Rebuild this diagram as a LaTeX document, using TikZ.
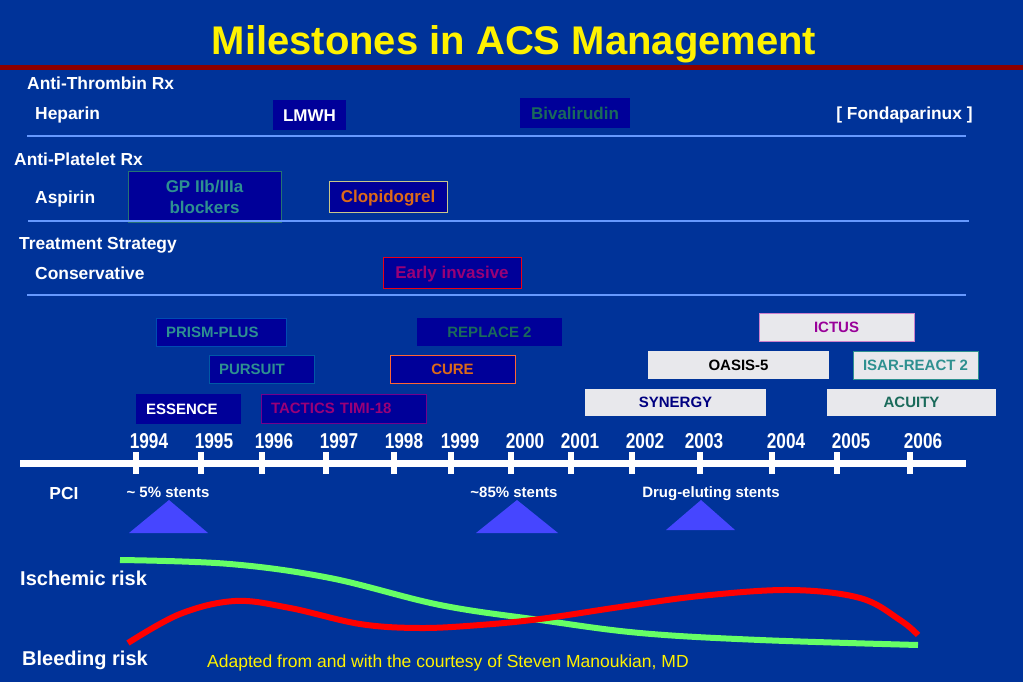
\documentclass[tikz,border=0pt]{standalone}
\usepackage{fontspec}
\setmainfont{Liberation Sans}
\newfontfamily\narrowfont[FakeStretch=0.8]{Liberation Sans}
\usepackage{xcolor}
\usetikzlibrary{positioning}

\definecolor{slideblue}{HTML}{003399}
\definecolor{boxnavy}{HTML}{000099}
\definecolor{boxgray}{HTML}{E8E8EC}
\definecolor{sepblue}{HTML}{6699FF}
\definecolor{titlered}{HTML}{8E0000}
\definecolor{tealtxt}{HTML}{2E9090}
\definecolor{greentxt}{HTML}{1A6A5A}
\definecolor{orangetxt}{HTML}{DD6A18}
\definecolor{purpletxt}{HTML}{990077}
\definecolor{ictustxt}{HTML}{990099}
\definecolor{navytxt}{HTML}{000080}
\definecolor{stentblue}{HTML}{4646FF}
\definecolor{riskgreen}{HTML}{66FF66}

\begin{document}
\begin{tikzpicture}[x=1pt,y=-1pt,
    lbl/.style={anchor=base west, text=white, inner sep=0pt, font=\bfseries\fontsize{17.4}{20}\selectfont},
    darkbox/.style={fill=boxnavy, inner sep=0pt, font=\bfseries\fontsize{17}{20}\selectfont, text height=12.2pt, text depth=0pt},
    trial/.style={fill=boxnavy, inner sep=0pt, font=\bfseries\fontsize{15}{18}\selectfont, text height=10.7pt, text depth=0pt},
    graybox/.style={trial, fill=boxgray},
    leftbox/.style={align=left, inner xsep=10pt, text width=#1},
    sepline/.style={draw=sepblue, line width=1.5pt},
    yearlbl/.style={anchor=base, text=white, inner sep=0pt, font=\narrowfont\bfseries\fontsize{21.5}{24}\selectfont},
    stentlbl/.style={anchor=base, text=white, inner sep=0pt, font=\bfseries\fontsize{15}{18}\selectfont},
    risklbl/.style={anchor=base west, text=white, inner sep=0pt, font=\bfseries\fontsize{20}{24}\selectfont}]

    % Background and title
    \fill[slideblue] (0,0) rectangle (1023,682);
    \useasboundingbox (0,0) rectangle (1023,682);
    \node[anchor=base, text=yellow, font=\bfseries\fontsize{40}{46}\selectfont] (title) at (514,55) {Milestones in ACS Management};
    \draw[titlered, line width=5pt] (0,68) -- (1023,68);

    % Anti-thrombin row
    \node[lbl] (antithr) at (27,90) {Anti-Thrombin Rx};
    \node[lbl] (heparin) at (35,120) {Heparin};
    \node[darkbox, text=white, minimum width=73pt, minimum height=30pt] (lmwh) at (309.5,115) {LMWH};
    \node[darkbox, text=greentxt, minimum width=110pt, minimum height=30pt] (bival) at (575,113) {Bivalirudin};
    \node[lbl, anchor=base] (fonda) at (904.5,120) {[ Fondaparinux ]};
    \draw[sepline] (27,136) -- (966,136);

    % Anti-platelet row
    \node[lbl] (antiplt) at (14,165) {Anti-Platelet Rx};
    \node[lbl] (aspirin) at (35,203) {Aspirin};
    \node[fill=boxnavy, draw=tealtxt!80!black, text=tealtxt, align=center, inner sep=0pt,
          font=\bfseries\fontsize{17}{21}\selectfont, minimum width=153pt, minimum height=51pt] (gp) at (204.5,196.5) {GP IIb/IIIa\\blockers};
    \node[darkbox, draw=yellow!40!gray!80, text=orangetxt, minimum width=118pt, minimum height=31pt] (clopi) at (388,196.5) {Clopidogrel};
    \draw[sepline] (28,221) -- (969,221);

    % Strategy row
    \node[lbl] (strategy) at (19,249) {Treatment Strategy};
    \node[lbl] (conserv) at (35,279) {Conservative};
    \node[darkbox, draw=red!70!purple, text=purpletxt, minimum width=138pt, minimum height=31pt] (early) at (452,272.5) {Early invasive};
    \draw[sepline] (27,295) -- (966,295);

    % Trials
    \node[trial, draw=blue!40!teal, text=tealtxt, leftbox=110pt, minimum height=28pt] (prism) at (221,332) {PRISM-PLUS};
    \node[trial, text=greentxt, minimum width=145pt, minimum height=28pt] (replace) at (489.5,332) {REPLACE 2};
    \node[trial, draw=teal!70!blue, text=tealtxt, leftbox=85pt, minimum height=28pt] (pursuit) at (261.5,369) {PURSUIT};
    \node[trial, draw=red!50!orange!80, text=orangetxt, minimum width=125pt, minimum height=28pt] (cure) at (452.5,369) {CURE};
    \node[trial, text=white, leftbox=85pt, minimum height=30pt] (essence) at (188.5,409) {ESSENCE};
    \node[trial, draw=purple!60!blue, text=purpletxt, leftbox=145pt, minimum height=29pt] (tactics) at (343.5,408.5) {TACTICS TIMI-18};
    \node[graybox, draw=ictustxt!50, text=ictustxt, minimum width=155pt, minimum height=28pt] (ictus) at (836.5,327) {ICTUS};
    \node[graybox, text=black, minimum width=181pt, minimum height=28pt] (oasis) at (738.5,365) {OASIS-5};
    \node[graybox, draw=tealtxt, text=tealtxt, minimum width=125pt, minimum height=28pt] (isar) at (915.5,365) {ISAR-REACT 2};
    \node[graybox, text=navytxt, minimum width=181pt, minimum height=27pt] (synergy) at (675.5,402.5) {SYNERGY};
    \node[graybox, text=greentxt, minimum width=169pt, minimum height=27pt] (acuity) at (911.5,402.5) {ACUITY};

    % Time line
    \draw[white, line width=7pt] (20,463) -- (966,463);
    \foreach \tx/\lx/\yr in {136/149/1994, 201/214/1995, 262/274/1996, 326/339/1997, 394/404/1998,
                            451/460/1999, 511/525/2000, 571/580/2001, 632/645/2002, 700/704/2003,
                            772/786/2004, 837/851/2005, 910/923/2006} {
        \draw[white, line width=6pt] (\tx,452) -- (\tx,474);
        \node[yearlbl] (y\yr) at (\lx,448.5) {\yr};
    }

    % PCI
    \node[lbl, anchor=base] (pci) at (64,499) {PCI};
    \node[stentlbl] (st5) at (168,497) {\char"007E\ 5\% stents};
    \node[stentlbl] (st85) at (514,497) {\char"007E 85\% stents};
    \node[stentlbl] (stdes) at (711,497) {Drug-eluting stents};
    \fill[stentblue] (169,500) -- (208,533) -- (129,533) -- cycle;
    \fill[stentblue] (517,500) -- (558,533) -- (476,533) -- cycle;
    \fill[stentblue] (701,500) -- (735,530) -- (666,530) -- cycle;

    % Risk curves
    \draw[riskgreen, line width=6pt] plot[smooth, tension=0.6] coordinates
        {(120,560) (230,564) (330,578) (440,605) (540,620) (640,633) (760,640) (918,645)};
    \draw[red, line width=6pt] plot[smooth, tension=0.6] coordinates
        {(128,643) (180,614) (235,601) (290,608) (360,624) (420,628) (480,625) (540,619)
         (620,607) (700,596) (790,590) (860,598) (900,620) (918,635)};
    \node[risklbl] (ischemic) at (20,585) {Ischemic risk};
    \node[risklbl] (bleeding) at (22,665) {Bleeding risk};
    \node[anchor=base west, inner sep=0pt, text=yellow, font=\fontsize{17.5}{20}\selectfont] (credit) at (207,667)
        {Adapted from and with the courtesy of Steven Manoukian, MD};
\end{tikzpicture}
\end{document}
